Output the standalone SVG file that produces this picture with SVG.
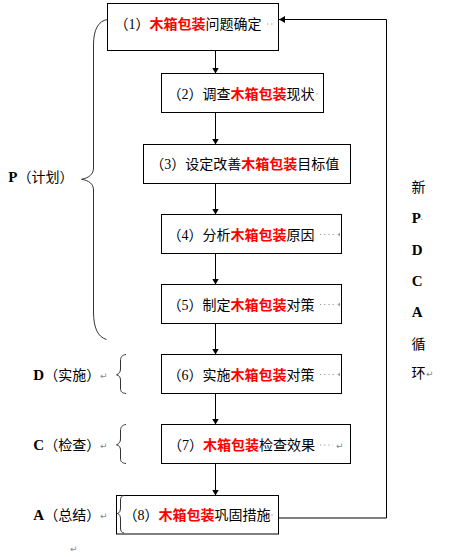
<svg xmlns="http://www.w3.org/2000/svg" width="454" height="557" viewBox="0 0 454 557">
<style>
.box{fill:#fff;stroke:#000;stroke-width:1}
.t{font-family:"Noto Sans CJK SC","Noto Sans",sans-serif;font-size:14px;fill:#000}
.r{fill:#f00;font-weight:bold}
.n{font-family:"Liberation Serif",serif}
.L{font-family:"Liberation Serif",serif;font-weight:bold;font-size:15px;fill:#000}
.c{fill:none;stroke:#000;stroke-width:1}
.br{fill:none;stroke:#333;stroke-width:1}
.m{font-family:"DejaVu Sans",sans-serif;font-size:9px;fill:#888}
.dot{stroke:#999;stroke-width:1.2;stroke-dasharray:1.2 3;fill:none}
</style>
<defs>
<marker id="ah" markerWidth="6" markerHeight="7" refX="6" refY="3.5" orient="auto" markerUnits="userSpaceOnUse">
<path d="M0,0 L6,3.5 L0,7 z" fill="#000"/>
</marker>
</defs>
<rect width="454" height="557" fill="#fff"/>

<g id="connectors">
<line class="c" x1="215.5" y1="42" x2="215.5" y2="73.5" marker-end="url(#ah)"/>
<line class="c" x1="215.5" y1="112.5" x2="215.5" y2="144.5" marker-end="url(#ah)"/>
<line class="c" x1="215.5" y1="183.5" x2="215.5" y2="214.5" marker-end="url(#ah)"/>
<line class="c" x1="215.5" y1="253.5" x2="215.5" y2="284.5" marker-end="url(#ah)"/>
<line class="c" x1="215.5" y1="323.5" x2="215.5" y2="354.5" marker-end="url(#ah)"/>
<line class="c" x1="215.5" y1="393.5" x2="215.5" y2="424.5" marker-end="url(#ah)"/>
<line class="c" x1="215.5" y1="463.5" x2="215.5" y2="495.5" marker-end="url(#ah)"/>
<polyline class="c" points="278.5,518 386.5,518 386.5,19.5 279,19.5" marker-end="url(#ah)"/>
</g>

<g id="braces">
<path class="br" d="M107.5,19.5 C98,21 93.5,30 93.5,45 L93.5,168 C93.5,174 89,178 81.5,179.3 C89,180.5 93.5,184 93.5,190 L93.5,312 C93.5,328 98,337 106.5,339.5"/>
<path class="br" d="M126,354.5 C122,355 120.5,357 120.5,361 L120.5,369 C120.5,372 119,374 116.5,374.8 C119,375.5 120.5,377 120.5,380 L120.5,388 C120.5,392 122,393 126,393.5"/>
<path class="br" d="M126,424.5 C122,425 120.5,427 120.5,431 L120.5,439 C120.5,442 119,444 116.5,444.8 C119,445.5 120.5,447 120.5,450 L120.5,458 C120.5,462 122,463 126,463.5"/>
</g>

<g id="n1"><rect class="box" x="107.5" y="3.5" width="171" height="47"/>
<text class="t" x="114.5" y="29.3">（<tspan class="n">1</tspan>）<tspan class="r">木箱包装</tspan>问题确定</text>
<line class="dot" x1="267" y1="24" x2="275" y2="24"/></g>

<g id="n2"><rect class="box" x="161.5" y="73.5" width="162" height="39"/>
<text class="t" x="167.6" y="98.6">（<tspan class="n">2</tspan>）调查<tspan class="r">木箱包装</tspan>现状</text>
<circle cx="317" cy="94" r="0.7" fill="#999"/></g>

<g id="n3"><rect class="box" x="143.5" y="144.5" width="207" height="39"/>
<text class="t" x="150.3" y="169.3">（<tspan class="n">3</tspan>）设定改善<tspan class="r">木箱包装</tspan>目标值</text></g>

<g id="n4"><rect class="box" x="161.5" y="214.5" width="180" height="39"/>
<text class="t" x="167.6" y="239.6">（<tspan class="n">4</tspan>）分析<tspan class="r">木箱包装</tspan>原因</text>
<line class="dot" x1="320" y1="234.5" x2="337" y2="234.5"/><path d="M340,232.5 L337.5,234.5 L340,236.5z" fill="#999"/></g>

<g id="n5"><rect class="box" x="161.5" y="284.5" width="180" height="39"/>
<text class="t" x="167.6" y="309.6">（<tspan class="n">5</tspan>）制定<tspan class="r">木箱包装</tspan>对策</text>
<line class="dot" x1="320" y1="304.5" x2="337" y2="304.5"/><path d="M340,302.5 L337.5,304.5 L340,306.5z" fill="#999"/></g>

<g id="n6"><rect class="box" x="161.5" y="354.5" width="180" height="39"/>
<text class="t" x="167.6" y="380.3">（<tspan class="n">6</tspan>）实施<tspan class="r">木箱包装</tspan>对策</text>
<line class="dot" x1="320" y1="374.5" x2="337" y2="374.5"/><path d="M340,372.5 L337.5,374.5 L340,376.5z" fill="#999"/></g>

<g id="n7"><rect class="box" x="161.5" y="424.5" width="189" height="39"/>
<text class="t" x="168" y="450.3">（<tspan class="n">7</tspan>）<tspan class="r">木箱包装</tspan>检查效果</text>
<line class="dot" x1="320" y1="445" x2="333" y2="445"/>
<text class="m" x="336" y="449">↵</text></g>

<g id="n8"><rect class="box" x="116.5" y="495.5" width="162" height="38.5"/>
<path class="br" d="M124,495.5 C121.5,496 120.5,497.5 120.5,500 L120.5,508 C120.5,511 119.5,513 117.3,513.5 C119.5,514 120.5,516 120.5,519 L120.5,528 C120.5,531 121.5,532.5 124,533"/>
<text class="t" x="123.6" y="520.3">（<tspan class="n">8</tspan>）<tspan class="r">木箱包装</tspan>巩固措施</text>
<circle cx="272" cy="515" r="0.7" fill="#999"/></g>

<g id="labels">
<text x="8.3" y="182.3"><tspan class="L">P</tspan><tspan class="t">（计划）</tspan></text>
<text x="33.3" y="380.3"><tspan class="L">D</tspan><tspan class="t">（实施）</tspan></text>
<text class="m" x="100" y="379">↵</text>
<text x="33.3" y="450.3"><tspan class="L">C</tspan><tspan class="t">（检查）</tspan></text>
<text class="m" x="100" y="449">↵</text>
<text x="33.3" y="520.3"><tspan class="L">A</tspan><tspan class="t">（总结）</tspan></text>
<text class="m" x="100" y="519">↵</text>
<text class="m" x="70" y="552">↵</text>
</g>

<g id="cycle-label">
<text class="t" x="411.5" y="192">新</text>
<text class="L" x="411.7" y="223.3">P</text>
<circle cx="421.7" cy="219.3" r="0.7" fill="#999"/>
<text class="L" x="411.7" y="255">D</text>
<text class="L" x="411.7" y="285.7">C</text>
<text class="L" x="411.7" y="317.3">A</text>
<text class="t" x="411.5" y="348.6">循</text>
<text class="t" x="411.5" y="378">环</text>
<text class="m" x="426" y="377">↵</text>
</g>
</svg>
